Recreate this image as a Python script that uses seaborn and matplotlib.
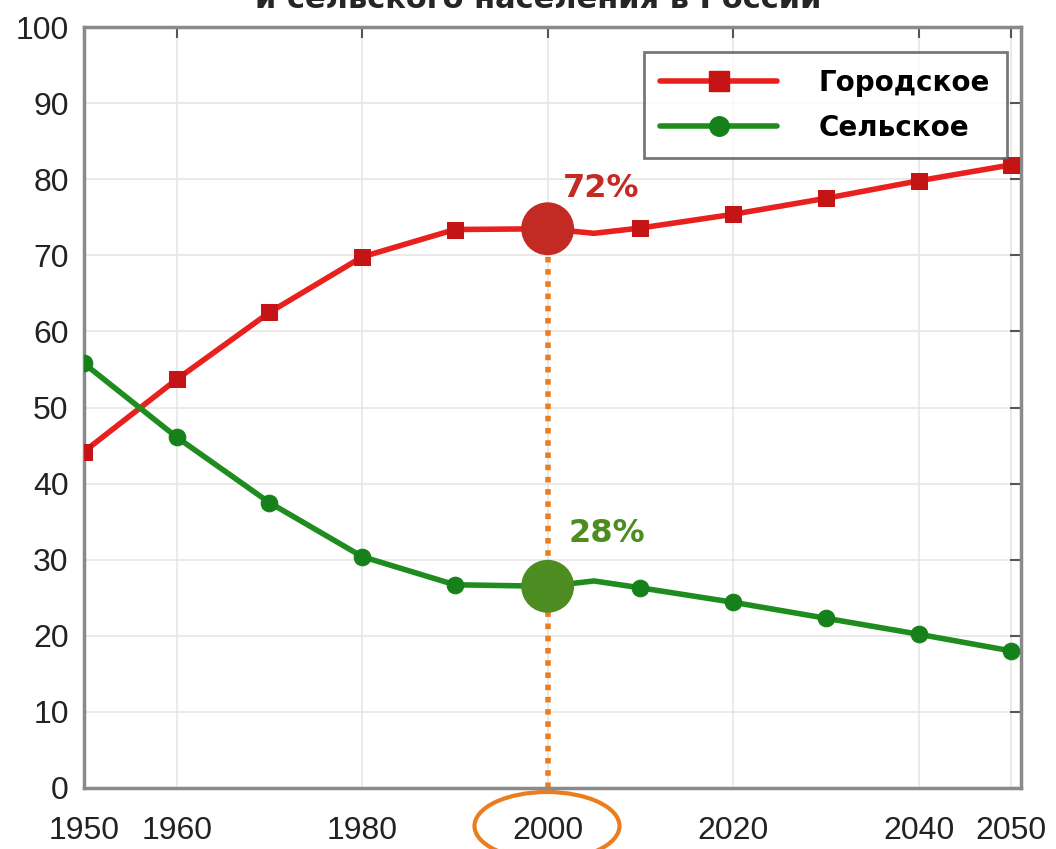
import numpy as np
import pandas as pd
import seaborn as sns
import matplotlib.pyplot as plt
from matplotlib.lines import Line2D
from matplotlib.patches import Ellipse

years = [1950, 1960, 1970, 1980, 1990, 2000, 2005, 2010, 2020, 2030, 2040, 2050]
urban = [44.2, 53.7, 62.5, 69.8, 73.4, 73.5, 72.9, 73.6, 75.4, 77.5, 79.8, 81.9]
rural = [55.8, 46.1, 37.5, 30.4, 26.7, 26.5, 27.2, 26.3, 24.4, 22.3, 20.2, 18.0]
series = ["Городское", "Сельское"]
xticks = [1950, 1960, 1980, 2000, 2020, 2040, 2050]
mark_year = 2000
mark_labels = ["72%", "28%"]

df = pd.DataFrame({
    "year": years * 2,
    "share": urban + rural,
    "type": [series[0]] * len(years) + [series[1]] * len(years),
})

sns.set_style("white")
plt.rcParams["font.family"] = ["Liberation Sans", "DejaVu Sans"]

fig = plt.figure(figsize=(10.56, 8.49), dpi=100)
ax = fig.add_axes([0.0795, 0.072, 0.887, 0.896])

line_col = {series[0]: "#e8201e", series[1]: "#1f8c1f"}
mark_col = {series[0]: "#c41416", series[1]: "#16801a"}
mk = {series[0]: "s", series[1]: "o"}
dots = [i for i, y in enumerate(years) if y % 10 == 0]

for s in series:
    sub = df[df["type"] == s]
    sns.lineplot(data=sub, x="year", y="share", ax=ax, color=line_col[s], lw=4,
                 marker=mk[s], markersize=12, markevery=dots,
                 markerfacecolor=mark_col[s], markeredgecolor=mark_col[s], zorder=3)

# highlight 2000
i2000 = years.index(mark_year)
ax.plot([mark_year, mark_year], [0, urban[i2000]], ls=(0, (1, 1.2)), lw=4,
        color="#ec7d1f", zorder=2)
sns.scatterplot(x=[mark_year, mark_year], y=[urban[i2000], rural[i2000]], ax=ax,
                hue=series, palette=["#c42a24", "#4c8c20"], s=1450, legend=False,
                linewidth=0, zorder=5)
ax.text(mark_year + 1.6, urban[i2000] + 5.3, mark_labels[0], color="#c42a24",
        fontsize=23, fontweight="bold", family="DejaVu Sans", va="center")
ax.text(mark_year + 2.2, rural[i2000] + 6.9, mark_labels[1], color="#4c8c20",
        fontsize=23, fontweight="bold", family="DejaVu Sans", va="center")

ax.set_xlim(1950, 2051)
ax.set_ylim(0, 100)
ax.set_xticks(xticks)
ax.set_yticks(range(0, 101, 10))
ax.set_xlabel("")
ax.set_ylabel("")
ax.grid(True, color="#e6e6e6", lw=1.2)
ax.tick_params(direction="in", length=8, width=1.5, colors="#555555",
               labelcolor="#222222", labelsize=23, top=True, right=True)
ax.tick_params(axis="x", pad=20)
ax.tick_params(axis="y", pad=11)
for sp in ax.spines.values():
    sp.set_color("#8a8a8a")
    sp.set_linewidth(2.5)

handles = [Line2D([], [], color=line_col[s], lw=4, marker=mk[s], markersize=14,
                  markerfacecolor=mark_col[s], markeredgecolor=mark_col[s])
           for s in series]
leg = ax.legend(handles, series, loc="upper right", bbox_to_anchor=(1.0, 0.985),
                prop={"family": "DejaVu Sans", "weight": "bold", "size": 20},
                frameon=True, fancybox=False, edgecolor="#555555",
                handlelength=4.2, handletextpad=1.5, labelspacing=0.6,
                borderpad=0.6, labelcolor="black")
leg.get_frame().set_linewidth(2)

# circle round the 2000 label
ax.add_patch(Ellipse((547 / 1056, 1 - 826 / 849), 145 / 1056, 68 / 849,
                     transform=fig.transFigure, fill=False, ec="#ec7d1f", lw=3,
                     clip_on=False))

fig.text(0.51, 1.0, "и сельского населения в России", ha="center", va="center",
         fontsize=22, fontweight="bold", family="DejaVu Sans")

fig.savefig("out.png", dpi=100)
